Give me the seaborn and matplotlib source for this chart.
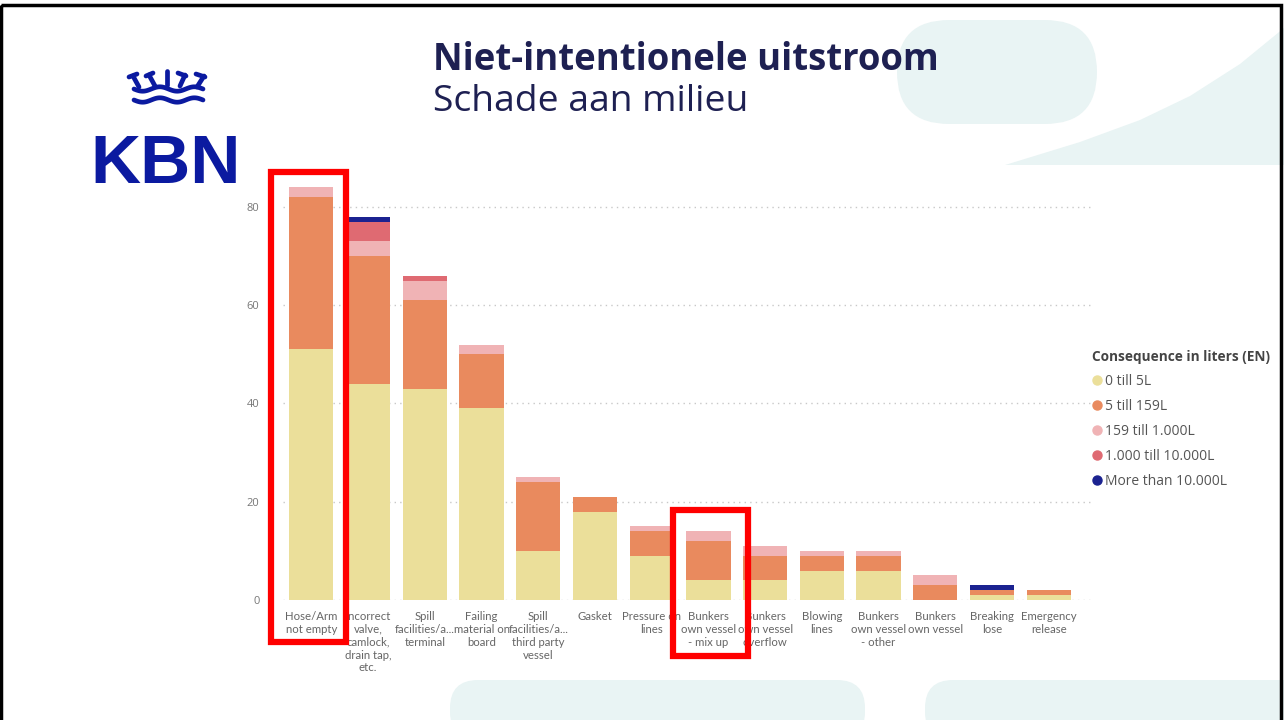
import numpy as np
import pandas as pd
import matplotlib.pyplot as plt
import seaborn as sns
from matplotlib.lines import Line2D
from matplotlib.patches import Rectangle, FancyBboxPatch, Polygon

categories = [
    "Hose/Arm\nnot empty",
    "Incorrect\nvalve,\ncamlock,\ndrain tap,\netc.",
    "Spill\nfacilities/a...\nterminal",
    "Failing\nmaterial on\nboard",
    "Spill\nfacilities/a...\nthird party\nvessel",
    "Gasket",
    "Pressure on\nlines",
    "Bunkers\nown vessel\n- mix up",
    "Bunkers\nown vessel\noverflow",
    "Blowing\nlines",
    "Bunkers\nown vessel\n- other",
    "Bunkers\nown vessel",
    "Breaking\nlose",
    "Emergency\nrelease",
]
till_5 = [51, 44, 43, 39, 10, 18, 9, 4, 4, 6, 6, 0, 1, 1]
till_159 = [31, 26, 18, 11, 14, 3, 5, 8, 5, 3, 3, 3, 1, 1]
till_1000 = [2, 3, 4, 2, 1, 0, 1, 2, 2, 1, 1, 2, 0, 0]
till_10000 = [0, 4, 1, 0, 0, 0, 0, 0, 0, 0, 0, 0, 0, 0]
more_10000 = [0, 1, 0, 0, 0, 0, 0, 0, 0, 0, 0, 0, 1, 0]
series_names = ["0 till 5L", "5 till 159L", "159 till 1.000L",
                "1.000 till 10.000L", "More than 10.000L"]
colors = ["#EBDF9A", "#E98A5E", "#F0B3B5", "#DF6A72", "#1B2290"]
highlighted = [0, 7]

df = pd.DataFrame({"cat": categories, "s0": till_5, "s1": till_159,
                   "s2": till_1000, "s3": till_10000, "s4": more_10000})
cum = df[["s0", "s1", "s2", "s3", "s4"]].cumsum(axis=1)

sns.set_style("white")
plt.rcParams["font.family"] = ["Open Sans", "DejaVu Sans"]

W, H = 1284, 720
fig = plt.figure(figsize=(W / 100, H / 100), dpi=100)

# background / decoration layer in pixel coordinates
bg = fig.add_axes([0, 0, 1, 1], zorder=0)
bg.set_xlim(0, W)
bg.set_ylim(H, 0)
bg.axis("off")
teal = "#E9F4F4"
bg.add_patch(FancyBboxPatch((897, 20), 200, 104, boxstyle="round,pad=0,rounding_size=52",
                            fc=teal, ec="none"))
bg.add_patch(Polygon([(1005, 165), (1080, 142), (1140, 120), (1190, 96), (1240, 64),
                      (1284, 28), (1284, 165)],
                     closed=True, fc=teal, ec="none"))
bg.add_patch(FancyBboxPatch((450, 680), 415, 60, boxstyle="round,pad=0,rounding_size=28",
                            fc=teal, ec="none"))
bg.add_patch(FancyBboxPatch((925, 680), 400, 60, boxstyle="round,pad=0,rounding_size=28",
                            fc=teal, ec="none"))
bg.add_patch(Rectangle((1, 5), 1280, 720, fill=False, ec="black", lw=2.5))

# KBN logo
logo = "#0B1AA0"
bg.text(166, 183, "KBN", color=logo, fontsize=50, fontweight="bold",
        family="Liberation Sans", ha="center", va="baseline")
wx = np.linspace(134, 203, 60)
for wy in (89, 100):
    bg.plot(wx, wy + 2.2 * np.sin((wx - 134) / 69 * 4 * np.pi), color=logo, lw=3.4,
            solid_capstyle="round")
for (x0, y0, x1, y1) in [(129, 77, 137, 74), (133, 76, 139, 87),
                          (146, 76, 153, 73), (149, 75, 155, 86),
                          (167, 71, 167, 85),
                          (178, 73, 186, 76), (185, 75, 180, 86),
                          (196, 74, 205, 77), (204, 76, 197, 87)]:
    bg.plot([x0, x1], [y0, y1], color=logo, lw=3.4, solid_capstyle="round")

# titles
navy = "#1E2052"
fig.text(433 / W, 1 - 60 / H, "Niet-intentionele uitstroom", color=navy,
         fontsize=26.3, fontweight="bold", va="center", ha="left")
fig.text(433 / W, 1 - 102 / H, "Schade aan milieu", color=navy,
         fontsize=26.8, va="center", ha="left")

# main chart
ax = fig.add_axes([283 / W, 120 / H, 810 / W, 422.5 / H], zorder=1)
ax.patch.set_alpha(0)
for i in reversed(range(5)):
    sns.barplot(x=df["cat"], y=cum.iloc[:, i], color=colors[i], width=0.78,
                saturation=1, errorbar=None, linewidth=0, ax=ax, zorder=2)

ax.set_ylim(0, 86)
ax.set_xlim(-0.5, 13.78)
ax.set_yticks([0, 20, 40, 60, 80])
ax.grid(axis="y", linestyle=(0, (1, 3)), color="#C8C8C8", lw=1)
ax.set_axisbelow(True)
for s in ax.spines.values():
    s.set_visible(False)
ax.set_xlabel("")
ax.set_ylabel("")
ax.tick_params(axis="y", labelsize=8, labelcolor="#777777", length=0, pad=17)
ax.tick_params(axis="x", labelsize=8.2, labelcolor="#666666", length=0, pad=8)
for lab in ax.get_xticklabels():
    lab.set_linespacing(1.2)
    lab.set_va("top")
    lab.set_family(["Lato", "DejaVu Sans"])

# red highlight boxes (left offset, bottom, extra above bar top)
box_left = {0: -0.72, 7: -0.63}
box_bottom = {0: -8.5, 7: -11.4}
box_extra = {0: 3.1, 7: 4.3}
for idx in highlighted:
    top = cum.iloc[idx, 4]
    b = box_bottom[idx]
    ax.add_patch(Rectangle((idx + box_left[idx], b), 1.33, top + box_extra[idx] - b,
                           fill=False, ec="#FF0000", lw=4.5, clip_on=False, zorder=5))

handles = [Line2D([], [], marker="o", ls="", ms=6.5, color=c) for c in colors]
leg = fig.legend(handles, series_names, loc="upper left",
                 bbox_to_anchor=(1092 / W, 1 - 350 / H), frameon=False,
                 title="Consequence in liters (EN)", alignment="left",
                 title_fontproperties={"weight": "bold", "size": 9.8},
                 fontsize=10, handlelength=0.7, handletextpad=0.25,
                 labelspacing=0.72, borderpad=0, borderaxespad=0)
leg.get_title().set_color("#444444")
for t in leg.get_texts():
    t.set_color("#555555")

fig.savefig("out.png", dpi=100)
